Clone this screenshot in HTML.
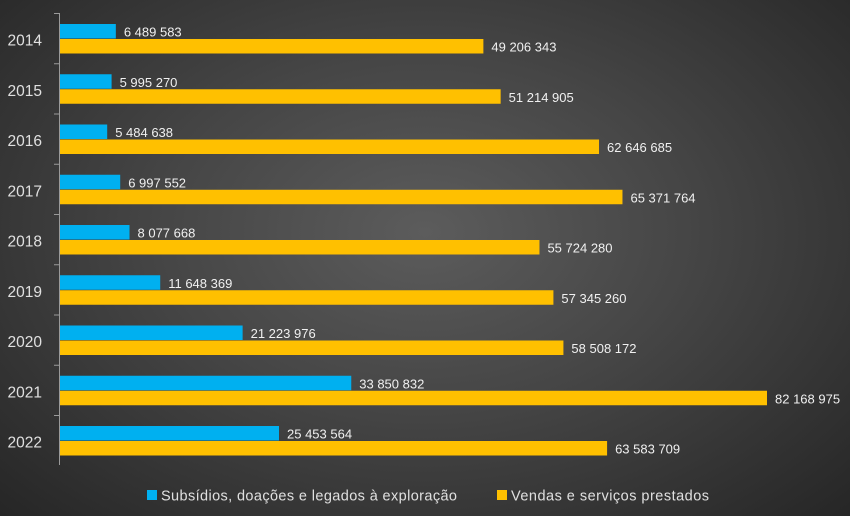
<!DOCTYPE html>
<html><head><meta charset="utf-8"><style>
html,body{margin:0;width:850px;height:516px;overflow:hidden;}
body{background:radial-gradient(ellipse at 50% 45%,#5c5c5c 0%,#454545 45%,#262626 100%);font-family:"Liberation Sans",sans-serif;}
svg{display:block}
</style></head><body>
<svg width="850" height="516" xmlns="http://www.w3.org/2000/svg" font-family="Liberation Sans, sans-serif">
<g id="g"></g>
<line x1="59.5" y1="13" x2="59.5" y2="465" stroke="#9a9a9a" stroke-width="1"/>
<rect x="147" y="490" width="10" height="10" fill="#00b0f0"/>
<text x="161" y="500.5" font-size="14.5" fill="#e0e0e0" textLength="296">Subsídios, doações e legados à exploração</text>
<rect x="497" y="490" width="10" height="10" fill="#ffc000"/>
<text x="511" y="500.5" font-size="14.5" fill="#e0e0e0" textLength="198">Vendas e serviços prestados</text>
</svg>
<script>
var d=[[2014,6489583,49206343],[2015,5995270,51214905],[2016,5484638,62646685],[2017,6997552,65371764],[2018,8077668,55724280],[2019,11648369,57345260],[2020,21223976,58508172],[2021,33850832,82168975],[2022,25453564,63583709]];
var k=707/82168975,s='';
function f(n){return n.toString().replace(/\B(?=(\d{3})+(?!\d))/g,' ');}
d.forEach(function(r,i){var t=13.5+i*50.25;
s+='<line x1="54" y1="'+t+'" x2="60" y2="'+t+'" stroke="#9a9a9a"/>';
var wb=r[1]*k,wo=r[2]*k;
s+='<rect x="60" y="'+(t+10.5)+'" width="'+wb+'" height="14.5" fill="#00b0f0"/>';
s+='<rect x="60" y="'+(t+25.5)+'" width="'+wo+'" height="14.5" fill="#ffc000"/>';
s+='<text x="'+(60+wb+8)+'" y="'+(t+23)+'" font-size="13" fill="#f0f0f0">'+f(r[1])+'</text>';
s+='<text x="'+(60+wo+8)+'" y="'+(t+38)+'" font-size="13" fill="#f0f0f0">'+f(r[2])+'</text>';
s+='<text x="42" y="'+(t+32)+'" font-size="15.5" fill="#e0e0e0" text-anchor="end">'+r[0]+'</text>';
});
document.getElementById('g').innerHTML=s;
</script>
</body></html>
